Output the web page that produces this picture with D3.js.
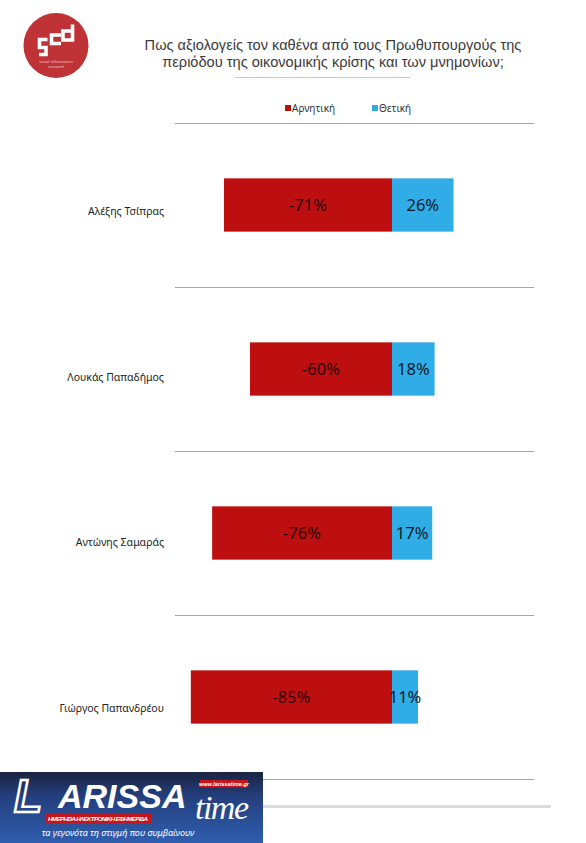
<!DOCTYPE html>
<html><head><meta charset="utf-8">
<script src="https://cdn.jsdelivr.net/npm/d3@7"></script>
<style>
html,body{margin:0;padding:0;background:#fff;}
svg{display:block;}
</style></head>
<body>
<svg id="chart" width="586" height="843"></svg>
<script>
const categories = ["Αλέξης Τσίπρας", "Λουκάς Παπαδήμος", "Αντώνης Σαμαράς", "Γιώργος Παπανδρέου"];
const negative = [-71, -60, -76, -85];
const positive = [26, 18, 17, 11];
const seriesNames = ["Αρνητική", "Θετική"];
const titleLines = ["Πως αξιολογείς τον καθένα από τους Πρωθυπουργούς της", "περιόδου της οικονομικής κρίσης και των μνημονίων;"];

const RED = "#bd0f0f", BLUE = "#30ade6";
const FONT = "'Noto Sans', 'DejaVu Sans', sans-serif";
const svg = d3.select("#chart");

// scales
const x = d3.scaleLinear().domain([-90, 60]).range([179, 534]);
const y = d3.scaleBand().domain(categories).range([123, 779]).padding(0);
const barH = y.bandwidth() * 0.325;

// ---- header logo (circle) ----
const logo = svg.append("g");
logo.append("circle").attr("cx", 56).attr("cy", 45.5).attr("r", 32.5).attr("fill", "#bf3336");
const glyphs = [
  "M47.5,39.5 H39.5 V47.5 H46 V54.5 H39",
  "M61,35 H51.5 V43.5 H61",
  "M72.5,24.5 V40 H63 V31 H72.5"
];
logo.selectAll("path").data(glyphs).join("path").attr("d", d => d)
  .attr("fill", "none").attr("stroke", "#fff").attr("stroke-width", 3.6).attr("stroke-linejoin", "miter");
logo.append("text").attr("text-anchor", "middle").attr("fill", "#f0c8c8")
  .attr("font-size", 4).attr("font-family", FONT)
  .selectAll("tspan").data(["social information", "research"]).join("tspan")
  .attr("x", 56).attr("y", (d, i) => 63 + i * 5).text(d => d);

// ---- title ----
svg.append("g").selectAll("text").data(titleLines).join("text")
  .attr("text-anchor", "middle").attr("font-family", "'Liberation Sans', Arial, sans-serif")
  .attr("font-size", 14.6).attr("fill", "#3a3a3a")
  .attr("x", 333).attr("y", (d, i) => 50 + i * 17.2).text(d => d);
svg.append("line").attr("x1", 235).attr("x2", 410).attr("y1", 77.5).attr("y2", 77.5)
  .attr("stroke", "#c8c8c8").attr("stroke-width", 1);

// ---- legend ----
const legend = svg.append("g").selectAll("g").data(seriesNames).join("g")
  .attr("transform", (d, i) => `translate(${i === 0 ? 285 : 372},110)`);
legend.append("rect").attr("x", 0).attr("y", -5).attr("width", 6).attr("height", 6)
  .attr("fill", (d, i) => i === 0 ? RED : BLUE);
legend.append("text").attr("x", 7).attr("y", 1.5).attr("font-family", FONT).attr("font-size", 10)
  .attr("fill", "#333").text(d => d);

// ---- separators ----
const seps = [...categories.map(c => y(c)), y(categories[categories.length - 1]) + y.bandwidth()];
svg.append("g").selectAll("line").data(seps).join("line")
  .attr("x1", 175).attr("x2", 534).attr("y1", d => Math.round(d) + 0.5).attr("y2", d => Math.round(d) + 0.5)
  .attr("stroke", "#a6a6a6").attr("stroke-width", 1);

// ---- bars ----
const rows = categories.map((c, i) => ({c, neg: negative[i], pos: positive[i]}));
const g = svg.append("g");
const barY = d => y(d.c) + (y.bandwidth() - barH) / 2;
g.selectAll("rect.neg").data(rows).join("rect").attr("class", "neg")
  .attr("x", d => x(d.neg)).attr("width", d => x(0) - x(d.neg))
  .attr("y", barY).attr("height", barH).attr("fill", RED);
g.selectAll("rect.pos").data(rows).join("rect").attr("class", "pos")
  .attr("x", x(0)).attr("width", d => x(d.pos) - x(0))
  .attr("y", barY).attr("height", barH).attr("fill", BLUE);

// value labels
g.selectAll("text.nl").data(rows).join("text").attr("class", "nl")
  .attr("x", d => (x(d.neg) + x(0)) / 2).attr("y", d => y(d.c) + y.bandwidth() / 2 + 6)
  .attr("text-anchor", "middle").attr("font-family", FONT).attr("font-size", 16.5)
  .attr("fill", "#2a0505").text(d => d.neg + "%");
g.selectAll("text.pl").data(rows).join("text").attr("class", "pl")
  .attr("x", d => (x(d.pos) + x(0)) / 2).attr("y", d => y(d.c) + y.bandwidth() / 2 + 6)
  .attr("text-anchor", "middle").attr("font-family", FONT).attr("font-size", 16.5)
  .attr("fill", "#0d1a2a").text(d => d.pos + "%");

// category labels
g.selectAll("text.cat").data(rows).join("text").attr("class", "cat")
  .attr("x", 164).attr("y", (d, i) => y(d.c) + y.bandwidth() / 2 + 10 + i * 1.5)
  .attr("text-anchor", "end").attr("font-family", FONT).attr("font-size", 10.5)
  .attr("fill", "#222").text(d => d.c);

// ---- footer line ----
svg.append("line").attr("x1", 263).attr("x2", 551).attr("y1", 806.5).attr("y2", 806.5)
  .attr("stroke", "#dcdcdc").attr("stroke-width", 3);

// ---- Larissa time logo ----
const defs = svg.append("defs");
const grad = defs.append("linearGradient").attr("id", "lg").attr("x1", 0).attr("y1", 0).attr("x2", 0).attr("y2", 1);
grad.append("stop").attr("offset", "0%").attr("stop-color", "#1b2340");
grad.append("stop").attr("offset", "35%").attr("stop-color", "#243f7e");
grad.append("stop").attr("offset", "100%").attr("stop-color", "#2f5eae");
const lt = svg.append("g").attr("transform", "translate(0,772)");
lt.append("rect").attr("width", 263).attr("height", 71).attr("fill", "url(#lg)");
lt.append("rect").attr("x", 200).attr("y", 8).attr("width", 48).attr("height", 7.5).attr("fill", "#c4161c");
lt.append("rect").attr("x", 45).attr("y", 42).attr("width", 106).attr("height", 9).attr("fill", "#c4161c");
const sans = "'Liberation Sans', Arial, sans-serif";
lt.append("text").attr("x", 14).attr("y", 40).attr("font-family", sans).attr("font-weight", "bold")
  .attr("font-style", "italic").attr("font-size", 46)
  .attr("fill", "none").attr("stroke", "#fff").attr("stroke-width", 2.5).text("L");
lt.append("text").attr("x", 58).attr("y", 36).attr("font-family", sans).attr("font-weight", "bold")
  .attr("font-style", "italic").attr("font-size", 34).attr("fill", "#fff")
  .text("ARISSA");
lt.append("text").attr("x", 98).attr("y", 49).attr("text-anchor", "middle").attr("font-family", sans)
  .attr("font-weight", "bold").attr("font-style", "italic").attr("font-size", 6.2).attr("fill", "#fff")
  .attr("textLength", 100).text("ΗΜΕΡΗΣΙΑ ΗΛΕΚΤΡΟΝΙΚΗ ΕΦΗΜΕΡΙΔΑ");
lt.append("text").attr("x", 224).attr("y", 13.8).attr("text-anchor", "middle").attr("font-family", sans)
  .attr("font-weight", "bold").attr("font-style", "italic").attr("font-size", 5.5).attr("fill", "#fff")
  .text("www.larissatime.gr");
lt.append("text").attr("x", 195).attr("y", 47).attr("font-family", "'Liberation Serif', serif")
  .attr("font-style", "italic").attr("font-size", 34).attr("fill", "#fff")
  .attr("textLength", 54).text("time");
lt.append("text").attr("x", 118).attr("y", 64).attr("text-anchor", "middle")
  .attr("font-family", "'Noto Sans', sans-serif").attr("font-style", "italic")
  .attr("font-size", 9).attr("fill", "#fff").text("τα γεγονότα τη στιγμή που συμβαίνουν");
</script>
</body></html>
